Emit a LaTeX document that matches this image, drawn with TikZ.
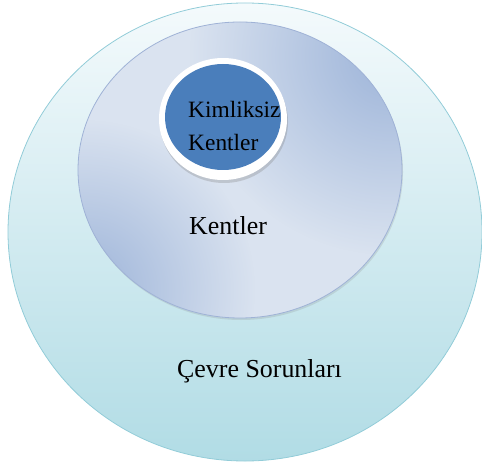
\documentclass[tikz,border=0pt]{standalone}
\usepackage{fontspec}
\setmainfont{Liberation Serif}
\usepackage{xcolor}
\usepackage{tikz}
\usetikzlibrary{shapes.geometric,shadows,fadings}

\definecolor{cevreTop}{HTML}{F4FAFC}
\definecolor{cevreBot}{HTML}{B1DCE5}
\definecolor{cevreLine}{HTML}{92CCD8}
\definecolor{kentDark}{HTML}{9DB4D9}
\definecolor{kentLight}{HTML}{DAE3F0}
\definecolor{kentLine}{HTML}{9FB2D6}
\definecolor{kimlikBlue}{HTML}{4A7EBB}

\tikzfading[name=glowfade, inner color=transparent!0, outer color=transparent!100]

\begin{document}
\begin{tikzpicture}[x=1bp,y=-1bp,
    circ/.style={ellipse, inner sep=0pt},
    glow/.style={fill=kentDark, path fading=glowfade},
    lbl/.style={anchor=base west, inner sep=0pt}]

\useasboundingbox (0,0) rectangle (482,464);

\node (cevre) [circ, minimum width=474bp, minimum height=458bp, top color=cevreTop, bottom color=cevreBot, draw=cevreLine, line width=0.8bp] at (245,232) {};
\node (kent) [circ, minimum width=324bp, minimum height=296bp, fill=kentLight, drop shadow={opacity=0.2, shadow xshift=1bp, shadow yshift=-2bp}] at (240,170) {};
\begin{scope}
  \clip (kent.center) ellipse [x radius=162, y radius=148];
  \path[glow] (390,55) circle [radius=200];
  \path[glow] (85,290) circle [radius=170];
\end{scope}
\draw[kentLine, line width=0.8bp] (kent.center) ellipse [x radius=162, y radius=148];
\node (ring) [circ, minimum width=128bp, minimum height=122bp, fill=white, drop shadow={opacity=0.3, shadow xshift=1bp, shadow yshift=-3bp}] at (223,119) {};
\node (kimlik) [circ, minimum width=116bp, minimum height=106bp, fill=kimlikBlue] at (223,117) {};

\node (kimlikA) [lbl, font=\fontsize{23.5}{26}\selectfont] at (188,118) {Kimliksiz};
\node (kimlikB) [lbl, font=\fontsize{23.5}{26}\selectfont] at (188,151) {Kentler};
\node (kentlbl) [lbl, font=\fontsize{26}{29}\selectfont] at (189,235) {Kentler};
\node (cevrelbl) [lbl, font=\fontsize{26}{29}\selectfont] at (177,377) {Çevre Sorunları};

\end{tikzpicture}
\end{document}
